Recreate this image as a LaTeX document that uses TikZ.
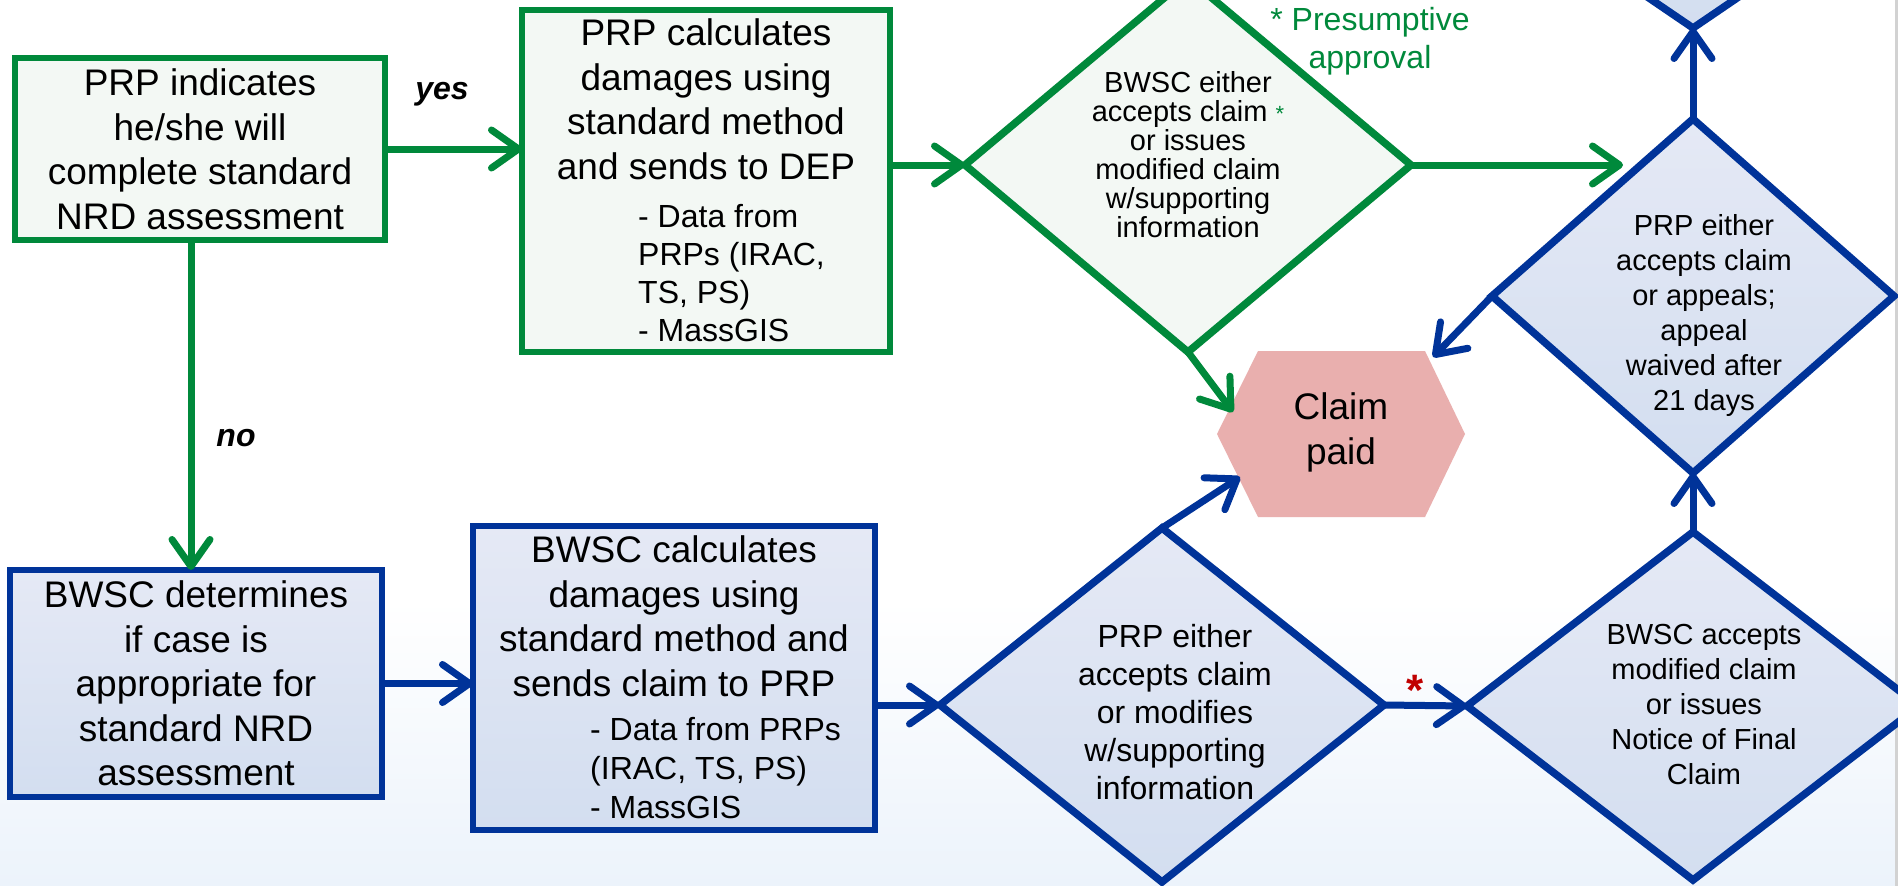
\documentclass[tikz,border=0pt]{standalone}
\usepackage{fontspec}
\setmainfont{Liberation Sans}
\usetikzlibrary{shapes.geometric,arrows.meta}
\definecolor{grn}{RGB}{0,137,59}
\definecolor{grnfill}{RGB}{243,248,244}
\definecolor{blu}{RGB}{0,51,153}
\definecolor{blutop}{RGB}{229,233,245}
\definecolor{blubot}{RGB}{211,222,240}
\definecolor{hexfill}{RGB}{233,175,174}
\definecolor{redstar}{RGB}{192,0,0}
\definecolor{bgbot}{RGB}{236,243,251}
\begin{document}
\begin{tikzpicture}[x=1pt,y=-1pt,
  gbox/.style={draw=grn, fill=grnfill, line width=6pt, rectangle, inner sep=0pt, outer sep=0pt},
  bbox/.style={draw=blu, top color=blutop, bottom color=blubot, line width=6pt, rectangle, inner sep=0pt, outer sep=0pt},
  gdia/.style={draw=grn, fill=grnfill, line width=7.5pt, diamond, inner sep=0pt, outer sep=0pt},
  bdia/.style={draw=blu, top color=blutop, bottom color=blubot, line width=7.5pt, diamond, inner sep=0pt, outer sep=0pt},
  txt/.style={inner sep=0pt, align=center, anchor=north},
  lst/.style={inner sep=0pt, align=left, anchor=north west},
  bigf/.style={font=\fontsize{37}{44.5}\selectfont},
  garr/.style={draw=grn, line width=7pt, -{Straight Barb[length=27pt,width=38pt,round]}},
  barr/.style={draw=blu, line width=7pt, -{Straight Barb[length=27pt,width=38pt,round]}},
  lbl/.style={inner sep=0pt, anchor=base, font=\fontsize{32}{38}\selectfont\bfseries\itshape}
]
\useasboundingbox (0,0) rectangle (1898,886);
\clip (0,0) rectangle (1898,886);
% background
\fill[white] (0,0) rectangle (1898,886);
\shade[top color=white, bottom color=bgbot] (0,600) rectangle (1898,886);
\draw[gray!35, line width=3pt] (1896,0) -- (1896,886);

% boxes
\node[gbox, minimum width=370pt, minimum height=182pt] (b1) at (200,149) {};
\node[gbox, minimum width=368pt, minimum height=342pt] (b2) at (706,181) {};
\node[bbox, minimum width=372pt, minimum height=227pt] (b3) at (196,683.5) {};
\node[bbox, minimum width=402pt, minimum height=304pt] (b4) at (674,678) {};

% diamonds
\node[gdia, minimum width=446pt, minimum height=374pt] (d1) at (1188,165) {};
\node[bdia, minimum width=520pt, minimum height=354pt] (d0) at (1693,-149) {};
\node[bdia, minimum width=402pt, minimum height=354pt] (d2) at (1693,296) {};
\node[bdia, minimum width=444pt, minimum height=354pt] (d3) at (1162,705) {};
\node[bdia, minimum width=452pt, minimum height=348pt] (d4) at (1693,706) {};

% hexagon
\fill[hexfill] (1217,434) -- (1258,351) -- (1425,351) -- (1465,434) -- (1425,517) -- (1258,517) -- cycle;
\node[txt, bigf] (cp) at (1341,392.5) {Claim\\paid};
\coordinate (cpA) at (1233,412);
\coordinate (cpB) at (1240,477);
\coordinate (cpC) at (1433,357);
\coordinate (g1) at (1623,165);

% texts
\node[txt, bigf] (b1t) at (200,68.5) {PRP indicates\\he/she will\\complete standard\\NRD assessment};
\node[txt, bigf] (b2t) at (706,18.5) {PRP calculates\\damages using\\standard method\\and sends to DEP};
\node[lst, font=\fontsize{32}{38}\selectfont] (b2l) at (638,204) {- Data from\\PRPs (IRAC,\\TS, PS)\\- MassGIS};
\node[txt, bigf] (b3t) at (196,580.5) {BWSC determines\\if case is\\appropriate for\\standard NRD\\assessment};
\node[txt, bigf] (b4t) at (674,535.5) {BWSC calculates\\damages using\\standard method and\\sends claim to PRP};
\node[lst, font=\fontsize{32}{39}\selectfont] (b4l) at (590,717) {- Data from PRPs\\(IRAC, TS, PS)\\- MassGIS};
\node[txt, font=\fontsize{29}{29}\selectfont] (d1t) at (1188,71) {BWSC either\\accepts claim {\color{grn}\fontsize{22}{22}\selectfont*}\\or issues\\modified claim\\w/supporting\\information};
\node[txt, font=\fontsize{29}{35}\selectfont] (d2t) at (1704,214) {PRP either\\accepts claim\\or appeals;\\appeal\\waived after\\21 days};
\node[txt, font=\fontsize{32}{38}\selectfont] (d3t) at (1175,624) {PRP either\\accepts claim\\or modifies\\w/supporting\\information};
\node[txt, font=\fontsize{29}{35}\selectfont] (d4t) at (1704,624) {BWSC accepts\\modified claim\\or issues\\Notice of Final\\Claim};
\node[txt, text=grn, font=\fontsize{32}{38}\selectfont] (pres) at (1370,7) {* Presumptive\\approval};

% labels
\node[lbl] (yes) at (442,99) {yes};
\node[lbl] (no) at (236,446) {no};
\node[inner sep=0pt, anchor=base, text=redstar, font=\fontsize{44}{44}\selectfont\bfseries] (star) at (1415,705) {*};

% connectors
\draw[garr] (b1.east) -- (b2.west |- b1.east);
\draw[garr] ([xshift=-9pt]b1.south) -- ([xshift=-5pt]b3.north);
\draw[barr] (b3.east) -- (b4.west |- b3.east);
\draw[garr] (b2.east |- d1.west) -- (d1.west);
\draw[barr] (b4.east |- d3.west) -- (d3.west);
\draw[garr] (d1.east) -- (g1);
\draw[garr] (d1.south) -- (cpA);
\draw[barr] (d3.north) -- (cpB);
\draw[barr] (d2.west) -- (cpC);
\draw[barr] (d3.east) -- (d4.west);
\draw[barr] (d4.north) -- (d2.south);
\draw[barr] (d2.north) -- (d0.south);
\end{tikzpicture}
\end{document}
